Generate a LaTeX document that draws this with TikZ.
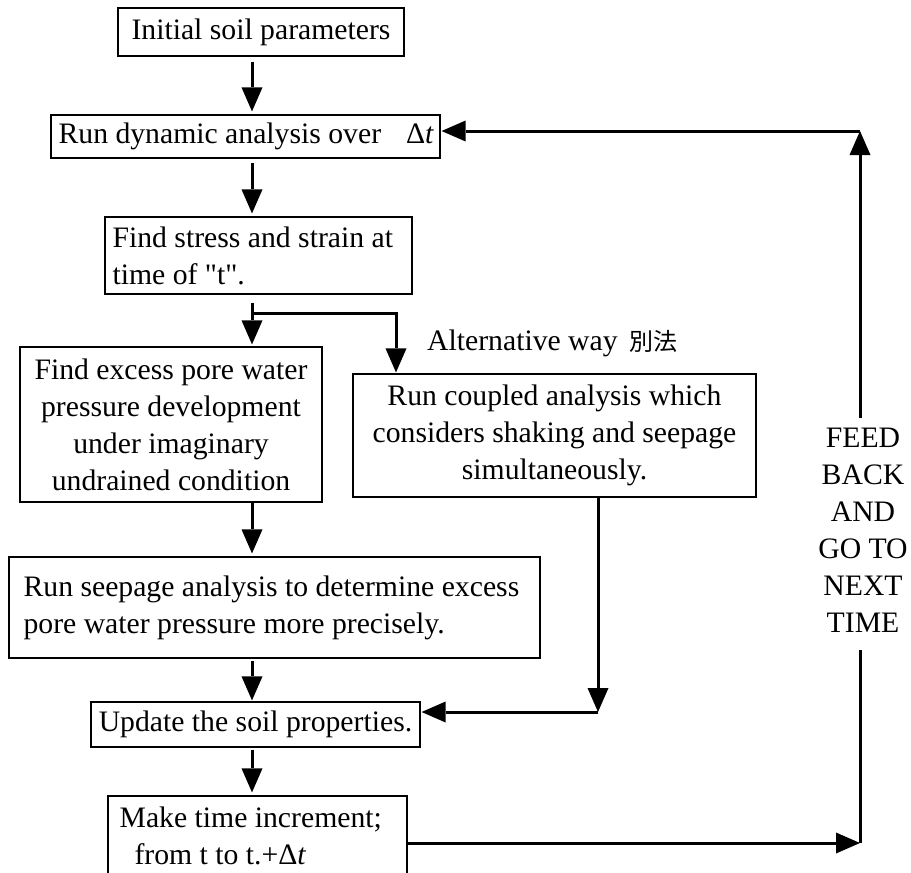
\documentclass[tikz,border=0pt]{standalone}
\usepackage{fontspec}
\setmainfont{Liberation Serif}
\newfontfamily\cjkfont{Noto Sans CJK JP}
\usetikzlibrary{arrows.meta}
\newcommand\bodyfont{\fontsize{29.7}{37}\selectfont}

\begin{document}
\begin{tikzpicture}[x=1pt,y=-1pt,
  box/.style={draw, line width=1.2pt, inner sep=0pt, font=\bodyfont},
  txt/.style={font=\bodyfont, inner sep=0pt, align=left, anchor=west},
  flow/.style={line width=3pt, -{Triangle[length=24pt,width=21pt,line width=0pt]}},
  wire/.style={line width=3pt},
  label/.style={font=\bodyfont, inner sep=0pt}]

\fill[white] (0,0) rectangle (911,873);
\useasboundingbox (0,0) rectangle (911,873);

% main column of boxes
\node[box, minimum width=286pt, minimum height=48pt] (b1) at (261,32) {Initial soil parameters};

\node[box, minimum width=389pt, minimum height=43pt] (b2) at (245.5,136.5) {};
\node[txt] (b2t) at ([xshift=8pt]b2.west)
  {Run dynamic analysis over\hspace{25pt}Δ\textit{t}};

\node[box, minimum width=307pt, minimum height=77pt] (b3) at (258.5,255.5) {};
\node[txt] (b3t) at ([xshift=8pt]b3.west)
  {Find stress and strain at\\time of \textquotedbl t\textquotedbl.};

\node[box, align=center, minimum width=302pt, minimum height=155pt] (b4) at (171,424.5)
  {Find excess pore water\\pressure development\\under imaginary\\undrained condition};

\node[box, align=center, minimum width=403pt, minimum height=123pt] (b5) at (554.5,435.5)
  {Run coupled analysis which\\considers shaking and seepage\\simultaneously.};

\node[box, minimum width=531pt, minimum height=101pt] (b6) at (274.5,607.5) {};
\node[txt] (b6t) at ([xshift=15pt]b6.west)
  {Run seepage analysis to determine excess\\pore water pressure more precisely.};

\node[box, minimum width=329pt, minimum height=45pt] (b7) at (255.5,724.5)
  {Update the soil properties.};

\node[box, minimum width=299pt, minimum height=80pt] (b8) at (257.5,836) {};
\node[txt] (b8t) at ([xshift=12pt]b8.west)
  {Make time increment;\\\hspace*{15pt}from t to t.+Δ\textit{t}};

% side labels
\node[label, anchor=base west] (alt) at (427,350)
  {Alternative way\hspace{12pt}{\cjkfont\fontsize{24}{24}\selectfont 別法}};
\node[label, align=center, inner ysep=10pt, fill=white] (fb) at (863,530.6)
  {FEED\\BACK\\AND\\GO TO\\NEXT\\TIME};

% routing points
\coordinate (sp) at (252,0);
\coordinate (j)  at (252,313);
\coordinate (jr) at (396,313);
\coordinate (c1) at (860,131);
\coordinate (c2) at (860,843);
\coordinate (c3) at (598,712);

% main flow
\draw[flow, shorten <=5pt, shorten >=3pt] (b1.south -| sp) -- (b2.north -| sp);
\draw[flow, shorten <=4pt, shorten >=3pt] (b2.south -| sp) -- (b3.north -| sp);
\draw[flow, shorten <=8pt, line join=miter] (b3.south -| sp) -- (j) -- (jr) -- ([yshift=1pt]b5.north -| jr);
\draw[flow, shorten >=2pt] (j) -- (b4.north -| j);
\draw[flow, shorten >=3pt] (b4.south -| sp) -- (b6.north -| sp);
\draw[flow, shorten <=2pt, shorten >=1pt] (b6.south -| sp) -- (b7.north -| sp);
\draw[flow, shorten <=2pt, shorten >=3pt] (b7.south -| sp) -- (b8.north -| sp);

% coupled branch back to the update step
\draw[flow] (b5.south -| c3) -- (c3);
\draw[flow, shorten >=1pt] (c3) -- (c3 -| b7.east);

% feedback loop to the next time step
\draw[flow] (b8.east |- c2) -- (c2);
\draw[wire, shorten >=7pt] (c2) -- (fb.south -| c2);
\draw[flow] (fb.north -| c1) -- (c1);
\draw[flow, shorten >=1pt] (c1) -- (c1 -| b2.east);

\end{tikzpicture}
\end{document}
